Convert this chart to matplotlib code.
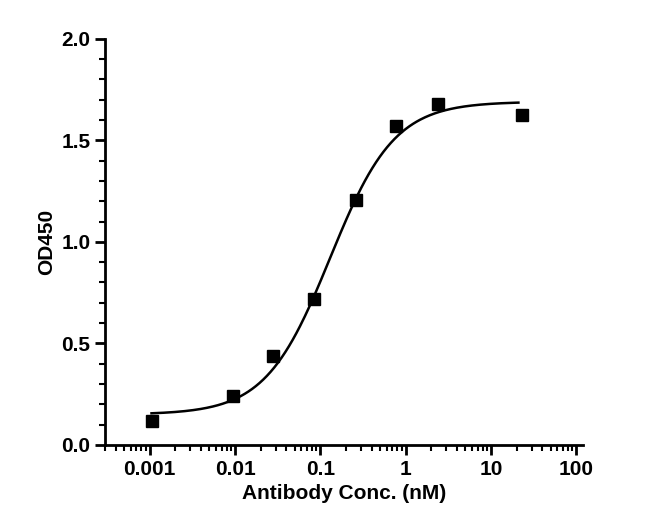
import matplotlib
matplotlib.use('Agg')
import matplotlib.pyplot as plt
import numpy as np
from matplotlib.ticker import LogLocator, MultipleLocator, FixedLocator

plt.rcParams['font.family'] = ['Liberation Sans', 'DejaVu Sans']
plt.rcParams['font.weight'] = 'bold'

conc = [0.00105, 0.0095, 0.028, 0.085, 0.26, 0.78, 2.4, 23]
od450 = [0.118, 0.241, 0.438, 0.719, 1.207, 1.571, 1.680, 1.626]

# 4PL fit curve parameters (estimated)
bottom, top, ec50, hill = 0.15, 1.69, 0.13, 1.15


def four_pl(x):
    return bottom + (top - bottom) / (1 + (ec50 / x) ** hill)


fig = plt.figure(figsize=(6.61, 5.31), dpi=100)
ax = fig.add_axes([0.159, 0.162, 0.723, 0.765])

xs = np.logspace(np.log10(0.00105), np.log10(21), 300)
ax.plot(xs, four_pl(xs), color='black', linewidth=1.8)
ax.plot(conc, od450, 's', color='black', markersize=8)

ax.set_xscale('log')
ax.set_xlim(0.0003, 120)
ax.set_ylim(0, 2.0)
ax.xaxis.set_major_locator(FixedLocator([0.001, 0.01, 0.1, 1, 10, 100]))
ax.set_xticklabels(['0.001', '0.01', '0.1', '1', '10', '100'])
ax.xaxis.set_minor_locator(LogLocator(base=10, subs=np.arange(2, 10)))
ax.yaxis.set_major_locator(MultipleLocator(0.5))
ax.yaxis.set_minor_locator(MultipleLocator(0.1))
ax.yaxis.set_major_formatter(matplotlib.ticker.FormatStrFormatter('%.1f'))

for s in ['top', 'right']:
    ax.spines[s].set_visible(False)
for s in ['left', 'bottom']:
    ax.spines[s].set_linewidth(2)
ax.tick_params(which='major', length=7, width=2, labelsize=15)
ax.tick_params(which='minor', length=4, width=1.5)

ax.set_xlabel('Antibody Conc. (nM)', fontsize=15, fontweight='bold')
ax.set_ylabel('OD450', fontsize=15, fontweight='bold')

plt.savefig('out.png', dpi=100)
plt.close()
